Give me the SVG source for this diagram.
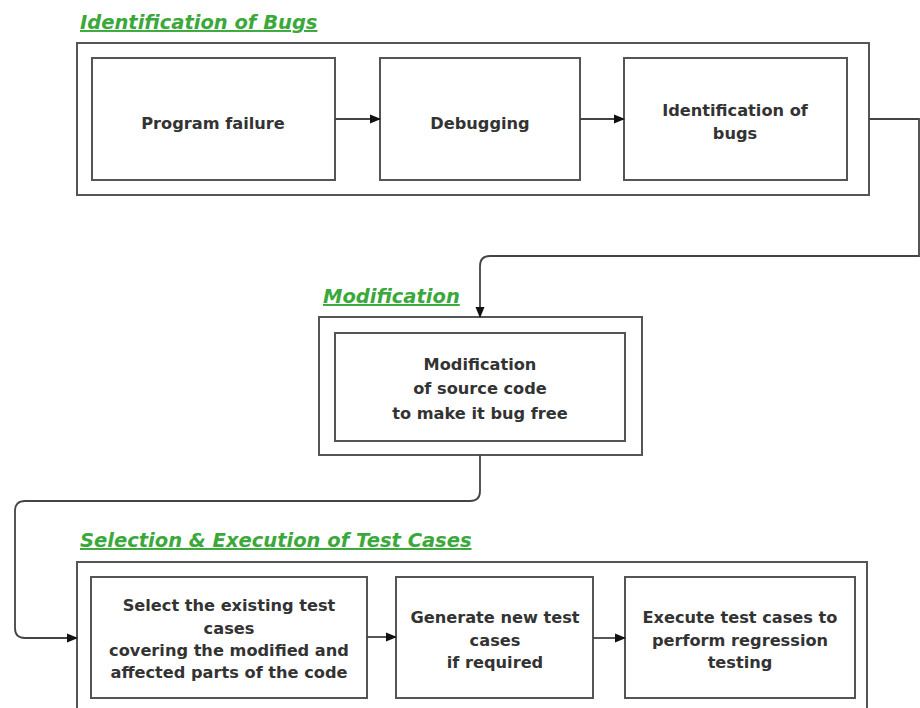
<svg xmlns="http://www.w3.org/2000/svg" width="920" height="708" viewBox="0 0 920 708">
<style>
.box{fill:#fff;stroke:#555;stroke-width:2}
.t{font-family:"DejaVu Sans",Verdana,sans-serif;font-weight:bold;font-size:16.2px;fill:#333;text-anchor:middle}
.h{font-family:"DejaVu Sans",Verdana,sans-serif;font-weight:bold;font-style:italic;font-size:19.5px;fill:#3aa83a;text-decoration:underline}
.c{fill:none;stroke:#444;stroke-width:1.8}
</style>
<defs>
<marker id="a" markerWidth="12" markerHeight="12" refX="10" refY="5" orient="auto" markerUnits="userSpaceOnUse">
<path d="M0,0.5 L11,5 L0,9.5 Z" fill="#111"/>
</marker>
</defs>
<rect width="920" height="708" fill="#fff"/>
<g id="group-identification">
<text class="h" x="80" y="29">Identification of Bugs</text>
<rect class="box" x="77" y="43" width="792" height="152"/>
</g>
<g id="program-failure"><rect class="box" x="92" y="58" width="243" height="122"/><text class="t" x="213" y="129">Program failure</text></g>
<g id="debugging"><rect class="box" x="380" y="58" width="200" height="122"/><text class="t" x="480" y="129">Debugging</text></g>
<g id="identification"><rect class="box" x="624" y="58" width="223" height="122"/><text class="t" x="735" y="116">Identification of</text><text class="t" x="735" y="139">bugs</text></g>
<g id="group-modification">
<text class="h" x="323" y="303">Modification</text>
<rect class="box" x="319" y="317" width="323" height="138"/>
</g>
<g id="modification"><rect class="box" x="335" y="333" width="290" height="108"/><text class="t" x="480" y="370">Modification</text><text class="t" x="480" y="394">of source code</text><text class="t" x="480" y="419">to make it bug free</text></g>
<g id="group-selection">
<text class="h" x="80" y="547">Selection &amp; Execution of Test Cases</text>
<rect class="box" x="77" y="562" width="790" height="160"/>
</g>
<g id="select"><rect class="box" x="91" y="577" width="276" height="121"/><text class="t" x="229" y="611">Select the existing test</text><text class="t" x="229" y="634">cases</text><text class="t" x="229" y="656">covering the modified and</text><text class="t" x="229" y="678">affected parts of the code</text></g>
<g id="generate"><rect class="box" x="396" y="577" width="197" height="121"/><text class="t" x="495" y="623">Generate new test</text><text class="t" x="495" y="646">cases</text><text class="t" x="495" y="668">if required</text></g>
<g id="execute"><rect class="box" x="625" y="577" width="230" height="121"/><text class="t" x="740" y="623">Execute test cases to</text><text class="t" x="740" y="646">perform regression</text><text class="t" x="740" y="668">testing</text></g>
<g id="connectors">
<path class="c" d="M335,119 L380,119" marker-end="url(#a)"/>
<path class="c" d="M580,119 L624,119" marker-end="url(#a)"/>
<path class="c" d="M869,119 L919,119 L919,256 L490,256 Q480,256 480,266 L480,317" marker-end="url(#a)"/>
<path class="c" d="M480,455 L480,491 Q480,501 470,501 L25,501 Q15,501 15,511 L15,628 Q15,638 25,638 L77,638" marker-end="url(#a)"/>
<path class="c" d="M367,637 L396,637" marker-end="url(#a)"/>
<path class="c" d="M593,638 L625,638" marker-end="url(#a)"/>
</g>
</svg>
